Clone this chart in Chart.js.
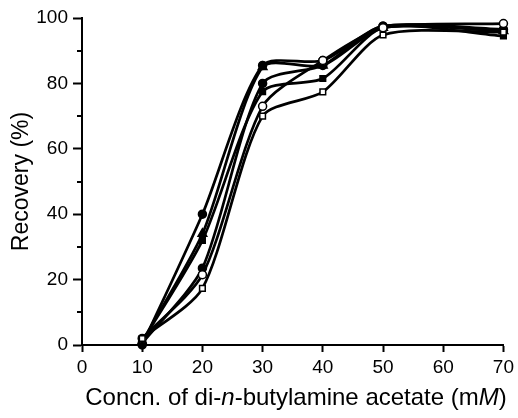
<!DOCTYPE html>
<html>
<head>
<meta charset="utf-8">
<script src="https://cdn.jsdelivr.net/npm/chart.js@4/dist/chart.umd.min.js"></script>
<style>
  html, body { margin: 0; padding: 0; background: #fff; }
  #wrap { position: relative; width: 518px; height: 418px; }
  #xtitle {
    position: absolute; left: 0; width: 592px; top: 385px;
    text-align: center; font: 24px "Liberation Sans", Arial, sans-serif;
    line-height: 24px; color: #000; white-space: nowrap;
  }
</style>
</head>
<body>
<div id="wrap">
  <canvas id="chart" width="518" height="418"></canvas>
  <div id="xtitle">Concn. of di-<i>n</i>-butylamine acetate (m<i>M</i>)</div>
</div>
<script>
/* concentrations (mM) */
const concn = [10, 20, 30, 40, 50, 70];

/* recovery (%) for each series */
const filledCircleA = [0, 40, 85.5, 87, 97.5, 96.5];
const filledSquare  = [1, 34, 85, 85.5, 97, 96];
const filledTriangle = [1, 32, 77.5, 81.5, 97, 94.5];
const filledCircleB = [0.5, 23.5, 80, 85.5, 97.5, 96];
const openCircle    = [2, 21.5, 73, 87, 97, 98.3];
const openSquare    = [2, 17.3, 70, 77.4, 94.8, 95.7];

const yMajor = [0, 20, 40, 60, 80, 100];
const yMinor = [10, 30, 50, 70, 90];

function pts(vals) {
  return vals.map((v, i) => ({ x: concn[i], y: v }));
}

function series(vals, style, filled) {
  return {
    data: pts(vals),
    borderColor: "#000",
    borderWidth: 2.7,
    pointStyle: style,
    pointRadius: style === "triangle" ? 5 : 4,
    pointBackgroundColor: filled ? "#000" : "#fff",
    pointBorderColor: "#000",
    pointBorderWidth: 1.5,
    tension: 0.25,
    fill: false,
    clip: false
  };
}

/* short minor ticks on the y axis */
const minorTicks = {
  id: "minorTicks",
  afterDraw(chart) {
    const y = chart.scales.y;
    const ctx = chart.ctx;
    ctx.save();
    ctx.strokeStyle = "#000";
    ctx.lineWidth = 2;
    yMinor.forEach(v => {
      const py = Math.round(y.getPixelForValue(v));
      ctx.beginPath();
      ctx.moveTo(y.right - 5, py);
      ctx.lineTo(y.right, py);
      ctx.stroke();
    });
    ctx.restore();
  }
};

new Chart(document.getElementById("chart"), {
  type: "line",
  data: {
    datasets: [
      series(openSquare, "rect", false),
      series(openCircle, "circle", false),
      series(filledCircleB, "circle", true),
      series(filledTriangle, "rect", true),
      series(filledSquare, "triangle", true),
      series(filledCircleA, "circle", true)
    ]
  },
  options: {
    responsive: false,
    animation: false,
    layout: { padding: { left: 0, top: 18, right: 12, bottom: 0 } },
    plugins: { legend: { display: false }, tooltip: { enabled: false } },
    scales: {
      x: {
        type: "linear",
        min: 0, max: 70,
        ticks: { stepSize: 10, color: "#000", padding: 4, maxRotation: 0,
                 font: { family: "Liberation Sans", size: 19 } },
        grid: { drawOnChartArea: false, tickLength: 7, tickColor: "#000", tickWidth: 2 },
        border: { color: "#000", width: 2 },
        afterFit: s => { s.height = 73; }
      },
      y: {
        min: 0, max: 100,
        afterBuildTicks: s => { s.ticks = yMajor.map(v => ({ value: v })); },
        ticks: { color: "#000", padding: 5,
                 font: { family: "Liberation Sans", size: 19 } },
        grid: { drawOnChartArea: false, tickLength: 9, tickColor: "#000", tickWidth: 2 },
        border: { color: "#000", width: 2 },
        title: { display: true, text: "Recovery (%)", color: "#000",
                 padding: { top: 8, bottom: 0 },
                 font: { family: "Liberation Sans", size: 23 } },
        afterFit: s => { s.width = 82; }
      }
    }
  },
  plugins: [minorTicks]
});
</script>
</body>
</html>
